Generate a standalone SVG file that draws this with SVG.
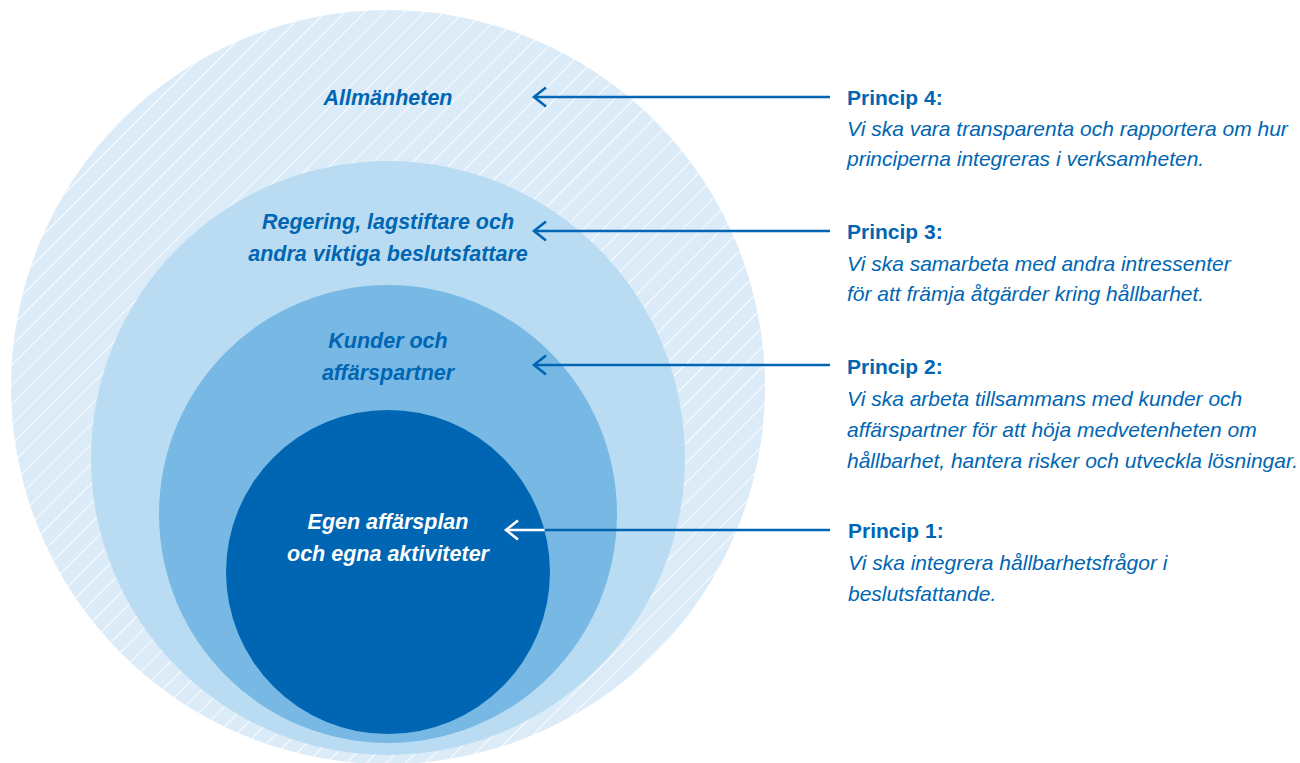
<svg xmlns="http://www.w3.org/2000/svg" width="1300" height="763" viewBox="0 0 1300 763">
  <style>
    .lbl { font-family: "Liberation Sans", Arial, sans-serif; font-weight: bold; font-style: italic; font-size: 21.5px; text-anchor: middle; fill: #0066B3; }
    .lbl.inv { fill: #FFFFFF; }
    .head { font-family: "Liberation Sans", Arial, sans-serif; font-weight: bold; font-size: 21px; fill: #0066B3; }
    .desc { font-family: "Liberation Sans", Arial, sans-serif; font-style: italic; font-size: 21px; fill: #0066B3; }
    .conn { stroke: #0066B3; stroke-width: 2.6; fill: none; }
    .conn.inv { stroke: #FFFFFF; }
  </style>
  <defs>
    <pattern id="hatch" width="14" height="14" patternUnits="userSpaceOnUse" patternTransform="rotate(45)">
      <rect width="14" height="14" fill="#DCEBF8"/>
      <line x1="0" y1="0" x2="0" y2="14" stroke="#FFFFFF" stroke-width="1.8"/>
    </pattern>
    <marker id="chev" markerUnits="userSpaceOnUse" markerWidth="20" markerHeight="24" refX="1" refY="12" orient="auto" overflow="visible">
      <path d="M13,2.5 L1,12 L13,21.5" fill="none" stroke="#0066B3" stroke-width="2.6"/>
    </marker>
    <marker id="chevW" markerUnits="userSpaceOnUse" markerWidth="20" markerHeight="24" refX="1" refY="12" orient="auto" overflow="visible">
      <path d="M13,2.5 L1,12 L13,21.5" fill="none" stroke="#FFFFFF" stroke-width="2.6"/>
    </marker>
  </defs>

  <g id="ring-allmanheten">
    <circle cx="388" cy="387" r="377" fill="url(#hatch)"/>
    <text class="lbl" x="388" y="105">Allmänheten</text>
  </g>
  <g id="ring-regering">
    <circle cx="388" cy="458" r="297" fill="#BADCF2"/>
    <text class="lbl" x="388" y="229">Regering, lagstiftare och</text>
    <text class="lbl" x="388" y="261">andra viktiga beslutsfattare</text>
  </g>
  <g id="ring-kunder">
    <circle cx="388" cy="514" r="229" fill="#77B8E4"/>
    <text class="lbl" x="388" y="348">Kunder och</text>
    <text class="lbl" x="388" y="380">affärspartner</text>
  </g>
  <g id="ring-egen">
    <circle cx="388" cy="572" r="162" fill="#0066B3"/>
    <text class="lbl inv" x="388" y="529">Egen affärsplan</text>
    <text class="lbl inv" x="388" y="561">och egna aktiviteter</text>
  </g>

  <g id="connectors">
    <line class="conn" x1="534" y1="97" x2="830" y2="97" marker-start="url(#chev)"/>
    <line class="conn" x1="534" y1="231" x2="830" y2="231" marker-start="url(#chev)"/>
    <line class="conn" x1="534" y1="365" x2="830" y2="365" marker-start="url(#chev)"/>
    <line class="conn" x1="544.5" y1="530" x2="830" y2="530"/>
    <line class="conn inv" x1="506" y1="530" x2="544.5" y2="530" marker-start="url(#chevW)"/>
  </g>

  <g id="princip-4">
    <text class="head" x="847" y="105">Princip 4:</text>
    <text class="desc" x="847" y="136">Vi ska vara transparenta och rapportera om hur</text>
    <text class="desc" x="847" y="166">principerna integreras i verksamheten.</text>
  </g>
  <g id="princip-3">
    <text class="head" x="847" y="239">Princip 3:</text>
    <text class="desc" x="847" y="271">Vi ska samarbeta med andra intressenter</text>
    <text class="desc" x="847" y="301">för att främja åtgärder kring hållbarhet.</text>
  </g>
  <g id="princip-2">
    <text class="head" x="847" y="374">Princip 2:</text>
    <text class="desc" x="847" y="406">Vi ska arbeta tillsammans med kunder och</text>
    <text class="desc" x="847" y="437">affärspartner för att höja medvetenheten om</text>
    <text class="desc" x="847" y="468">hållbarhet, hantera risker och utveckla lösningar.</text>
  </g>
  <g id="princip-1">
    <text class="head" x="848" y="538">Princip 1:</text>
    <text class="desc" x="848" y="570">Vi ska integrera hållbarhetsfrågor i</text>
    <text class="desc" x="848" y="601">beslutsfattande.</text>
  </g>
</svg>
